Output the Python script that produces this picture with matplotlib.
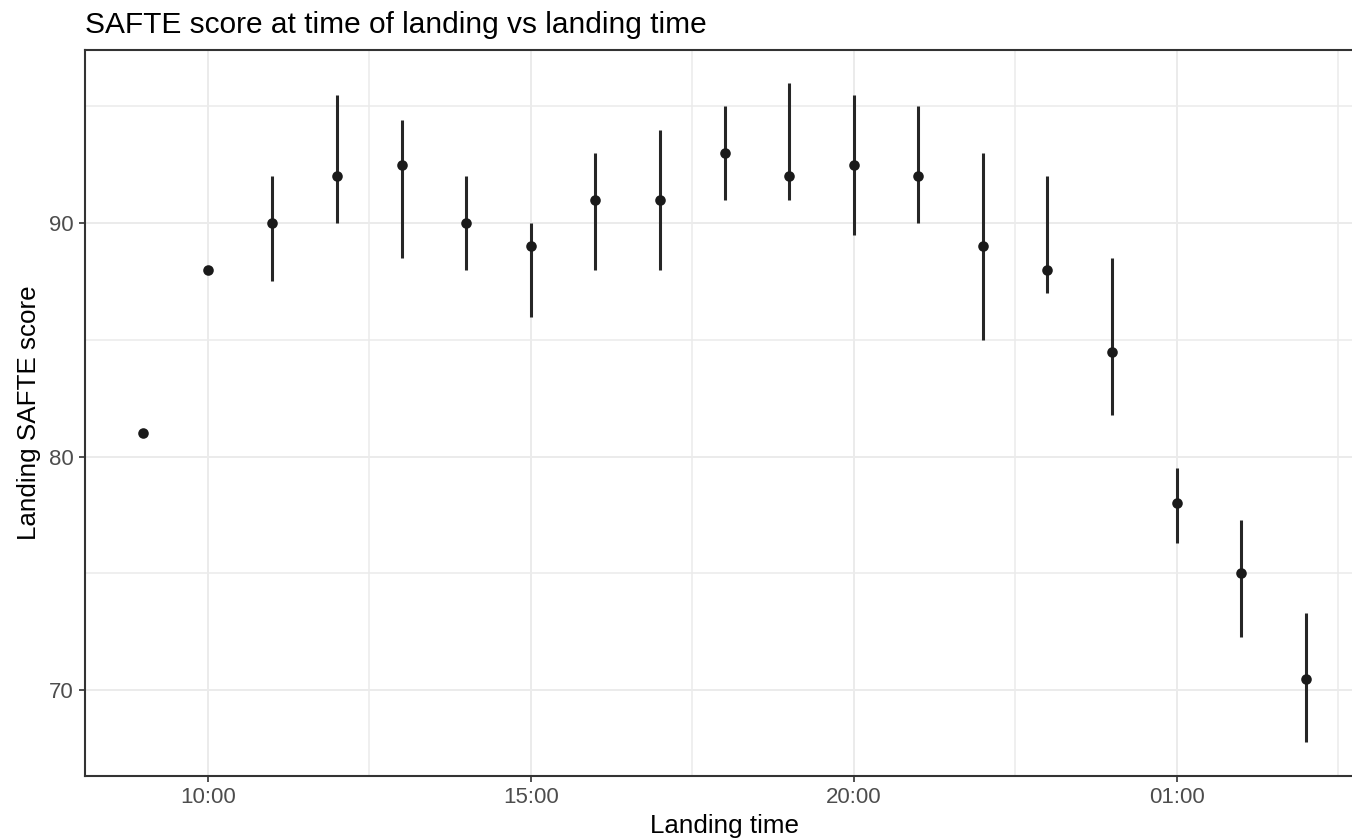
import numpy as np
import matplotlib
matplotlib.use("Agg")
import matplotlib.pyplot as plt
from matplotlib.ticker import MultipleLocator, FuncFormatter

plt.rcParams['font.family'] = ['Liberation Sans', 'DejaVu Sans']

# landing hour (hours past midnight of day 1, 25 = 01:00 next day)
hours = [9, 10, 11, 12, 13, 14, 15, 16, 17, 18, 19, 20, 21, 22, 23, 24, 25, 26, 27]
score = [81, 88, 90, 92, 92.5, 90, 89, 91, 91, 93, 92, 92.5, 92, 89, 88, 84.5, 78, 75, 70.5]
lower = [np.nan, np.nan, 87.5, 90, 88.5, 88, 86, 88, 88, 91, 91, 89.5, 90, 85, 87, 81.8, 76.3, 72.3, 67.8]
upper = [np.nan, np.nan, 92, 95.5, 94.4, 92, 90, 93, 94, 95, 96, 95.5, 95, 93, 92, 88.5, 79.5, 77.3, 73.3]

fig = plt.figure(figsize=(13.52, 8.38), dpi=100)
# panel runs a bit past the right edge of the image, as in the reference
ax = fig.add_axes([85/1352, 62/838, 1279/1352, 726/838])

ax.vlines(hours, lower, upper, color='#262626', linewidth=2.2, zorder=3)
ax.scatter(hours, score, s=58, color='#1a1a1a', zorder=4, linewidths=0)

ax.set_xlim(8.1, 27.9)
ax.set_ylim(66.33, 97.41)

ax.xaxis.set_major_locator(MultipleLocator(5))
ax.xaxis.set_minor_locator(MultipleLocator(2.5))
ax.xaxis.set_major_formatter(FuncFormatter(lambda x, p: "%02d:00" % (int(round(x)) % 24)))
ax.yaxis.set_major_locator(MultipleLocator(10))
ax.yaxis.set_minor_locator(MultipleLocator(5))

ax.grid(True, which='major', color='#EBEBEB', linewidth=1.4, zorder=0)
ax.grid(True, which='minor', color='#EBEBEB', linewidth=1.1, zorder=0)
ax.set_axisbelow(True)

for s in ax.spines.values():
    s.set_color('#333333')
    s.set_linewidth(1.5)

ax.tick_params(which='major', length=4, width=1.2, color='#333333',
               labelsize=16, labelcolor='#4D4D4D', pad=4)
ax.tick_params(which='minor', length=0)

ax.set_xlabel('Landing time', fontsize=18.7, color='black', labelpad=4)
ax.set_ylabel('Landing SAFTE score', fontsize=18.7, color='black', labelpad=6)
ax.set_title('SAFTE score at time of landing vs landing time', loc='left',
             fontsize=21.5, color='black', pad=12)

fig.savefig('out.png', dpi=100)
